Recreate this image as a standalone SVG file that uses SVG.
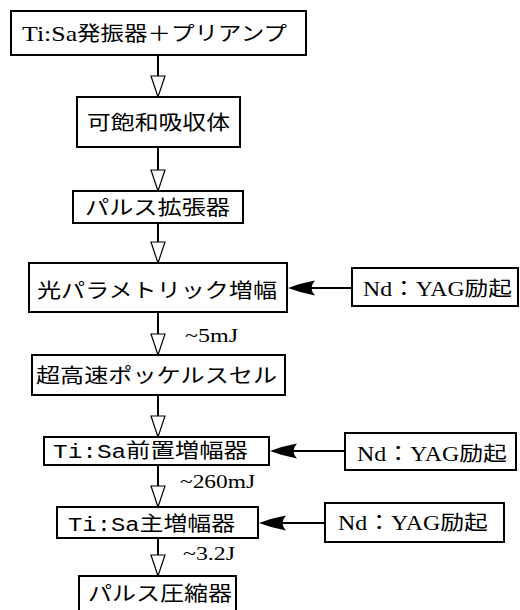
<svg xmlns="http://www.w3.org/2000/svg" width="520" height="610" viewBox="0 0 520 610">
<style>
.box{fill:#fff;stroke:#000;stroke-width:2}
.t{font-family:"Liberation Serif","Noto Sans CJK JP",serif;font-size:20px;fill:#000}
.m{font-family:"Liberation Mono","Noto Sans CJK JP",monospace}
.lbl{font-family:"Liberation Serif",serif;font-size:18px;fill:#000}
.flow{stroke:#000;stroke-width:2;fill:none;marker-end:url(#open)}
.pump{stroke:#000;stroke-width:2;fill:none}
.head{fill:#000;stroke:none}
</style>
<defs>
<marker id="open" viewBox="0 0 23 16" refX="22" refY="8" markerWidth="23" markerHeight="16" markerUnits="userSpaceOnUse" orient="auto">
<path d="M1,1 L22,8 L1,15 Z" fill="#fff" stroke="#000" stroke-width="1.2"/>
</marker>
<path id="barb" d="M0,0 Q13,-5 27,-7.5 Q20,0 27,7.5 Q13,5 0,0 Z"/>
</defs>
<g id="connectors">
<line class="flow" x1="158" y1="55" x2="158" y2="97"/>
<line class="flow" x1="158" y1="147" x2="158" y2="191"/>
<line class="flow" x1="158" y1="223" x2="158" y2="263"/>
<line class="flow" x1="158" y1="312" x2="158" y2="355"/>
<line class="flow" x1="158" y1="395" x2="158" y2="437"/>
<line class="flow" x1="158" y1="465" x2="158" y2="507"/>
<line class="flow" x1="158" y1="538" x2="158" y2="576"/>
<line class="pump" x1="352" y1="288" x2="300" y2="288"/>
<use href="#barb" class="head" x="288" y="288"/>
<line class="pump" x1="345" y1="451" x2="282" y2="451"/>
<use href="#barb" class="head" x="270" y="451"/>
<line class="pump" x1="325" y1="523" x2="271" y2="523"/>
<use href="#barb" class="head" x="259" y="523"/>
<text class="lbl" x="185" y="342" textLength="53" lengthAdjust="spacingAndGlyphs">~5mJ</text>
<text class="lbl" x="180" y="488" textLength="75" lengthAdjust="spacingAndGlyphs">~260mJ</text>
<text class="lbl" x="183" y="560" textLength="52" lengthAdjust="spacingAndGlyphs">~3.2J</text>
</g>
<g id="n1"><rect class="box" x="11" y="11" width="295" height="44"/><text class="t" x="22" y="41" textLength="265" lengthAdjust="spacingAndGlyphs"><tspan font-size="22">Ti:Sa</tspan>発振器＋プリアンプ</text></g>
<g id="n2"><rect class="box" x="77" y="97" width="163" height="50"/><text class="t" x="87" y="130" textLength="143" lengthAdjust="spacingAndGlyphs">可飽和吸収体</text></g>
<g id="n3"><rect class="box" x="73" y="191" width="170" height="32"/><text class="t" x="85" y="215" textLength="145" lengthAdjust="spacingAndGlyphs">パルス拡張器</text></g>
<g id="n4"><rect class="box" x="29" y="263" width="258" height="49"/><text class="t" x="37" y="298" textLength="240" lengthAdjust="spacingAndGlyphs">光パラメトリック増幅</text></g>
<g id="n5"><rect class="box" x="32" y="355" width="253" height="40"/><text class="t" x="36" y="383" textLength="241" lengthAdjust="spacingAndGlyphs">超高速ポッケルスセル</text></g>
<g id="n6"><rect class="box" x="44" y="437" width="225" height="28"/><text class="t" x="53" y="458" textLength="195" lengthAdjust="spacingAndGlyphs"><tspan class="m">Ti:Sa</tspan>前置増幅器</text></g>
<g id="n7"><rect class="box" x="57" y="507" width="201" height="31"/><text class="t" x="68" y="531" textLength="167" lengthAdjust="spacingAndGlyphs"><tspan class="m">Ti:Sa</tspan>主増幅器</text></g>
<g id="n8"><rect class="box" x="79" y="576" width="157" height="40"/><text class="t" x="88" y="601" textLength="144" lengthAdjust="spacingAndGlyphs">パルス圧縮器</text></g>
<g id="p1"><rect class="box" x="352" y="268" width="166" height="38"/><text class="t" x="363" y="296" textLength="149" lengthAdjust="spacingAndGlyphs">Nd：YAG励起</text></g>
<g id="p2"><rect class="box" x="345" y="433" width="171" height="37"/><text class="t" x="357" y="461" textLength="150" lengthAdjust="spacingAndGlyphs">Nd：YAG励起</text></g>
<g id="p3"><rect class="box" x="325" y="503" width="179" height="39"/><text class="t" x="338" y="530" textLength="150" lengthAdjust="spacingAndGlyphs">Nd：YAG励起</text></g>
</svg>
